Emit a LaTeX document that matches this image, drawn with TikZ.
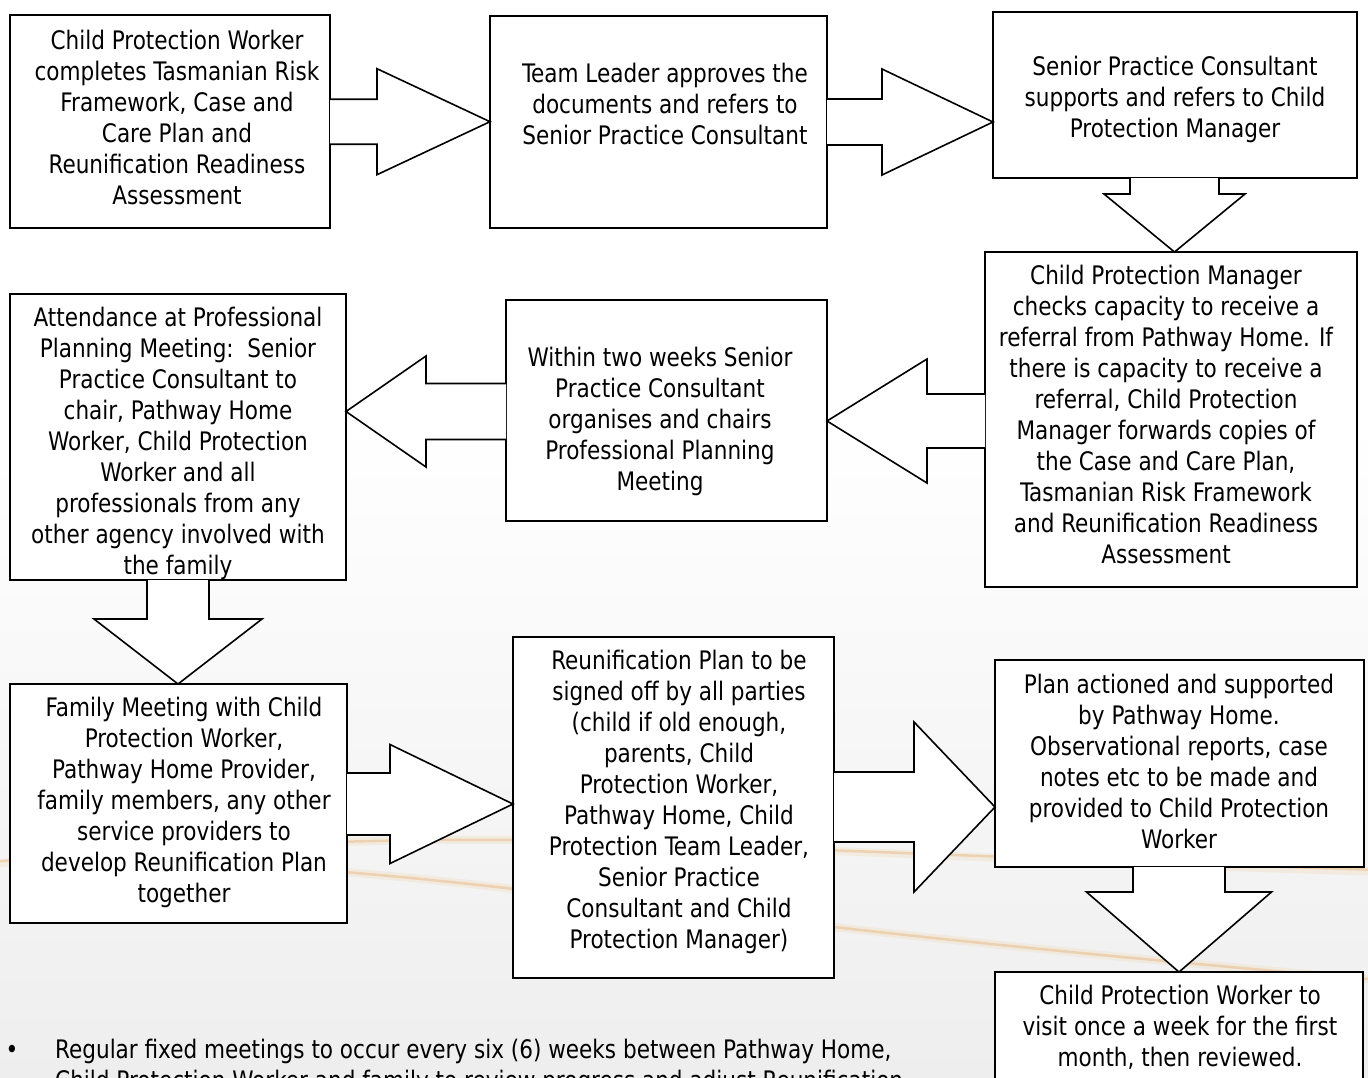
\documentclass[tikz,border=0pt]{standalone}
\usepackage{fontspec}
\newfontfamily\djc[FakeStretch=0.94]{DejaVu Sans Condensed}
\usetikzlibrary{calc}
\definecolor{bgg}{RGB}{238,238,238}
\definecolor{swo}{RGB}{228,165,90}
\definecolor{swl}{RGB}{240,210,165}
\newcommand\harr[6]{%
  \filldraw[arr] let \p1=(#1), \p2=(#2) in
    (\x1,{-(#3-#5)*1pt}) -- ({\x2-(#4)*1pt},{-(#3-#5)*1pt}) -- ({\x2-(#4)*1pt},{-(#3-#6)*1pt})
    -- (\x2,{-(#3)*1pt}) -- ({\x2-(#4)*1pt},{-(#3+#6)*1pt}) -- ({\x2-(#4)*1pt},{-(#3+#5)*1pt})
    -- (\x1,{-(#3+#5)*1pt});}
\newcommand\varr[6]{%
  \filldraw[arr] let \p1=(#1), \p2=(#2) in
    ({(#3-#5)*1pt},\y1) -- ({(#3-#5)*1pt},{\y2+(#4)*1pt}) -- ({(#3-#6)*1pt},{\y2+(#4)*1pt})
    -- ({(#3)*1pt},\y2) -- ({(#3+#6)*1pt},{\y2+(#4)*1pt}) -- ({(#3+#5)*1pt},{\y2+(#4)*1pt})
    -- ({(#3+#5)*1pt},\y1);}
\begin{document}
\begin{tikzpicture}[x=1pt,y=-1pt,
  box/.style={draw=black, line width=1.8pt, fill=white, anchor=north west, inner sep=0pt, outer sep=0pt},
  txt/.style={align=center, inner sep=0pt, font=\djc\fontsize{25.5}{31}\selectfont, text=black},
  arr/.style={draw=black, line width=1.6pt, fill=white, line join=miter},
  swoosh/.style={line width=2.5pt, draw=swo, opacity=0.35, line cap=round},
  swooshl/.style={line width=8pt, draw=swl, opacity=0.25, line cap=round}]
\useasboundingbox (0,0) rectangle (1368,1077);
\clip (0,0) rectangle (1368,1077);
\fill[white] (0,0) rectangle (1368,1077);
\shade[top color=white, bottom color=bgg] (0,420) rectangle (1368,1077);
% background swooshes
\draw[swooshl] (-10,864) .. controls (200,845) and (420,835) .. (600,842) .. controls (800,848) and (1000,860) .. (1380,872);
\draw[swoosh] (-10,862) .. controls (200,845) and (420,835) .. (600,842) .. controls (800,848) and (1000,858) .. (1380,870);
\draw[swooshl] (250,866) .. controls (420,874) and (600,900) .. (834,927) .. controls (1000,946) and (1200,965) .. (1380,980);
\draw[swoosh] (250,866) .. controls (420,874) and (600,900) .. (834,927) .. controls (1000,946) and (1200,965) .. (1380,980);
% boxes
\node[box, minimum width=320pt, minimum height=213pt] (b1) at (10,15) {};
\node[box, minimum width=337pt, minimum height=212pt] (b2) at (490,16) {};
\node[box, minimum width=364pt, minimum height=166pt] (b3) at (993,12) {};
\node[box, minimum width=372pt, minimum height=335pt] (b4) at (985,252) {};
\node[box, minimum width=321pt, minimum height=221pt] (b5) at (506,300) {};
\node[box, minimum width=336pt, minimum height=286pt] (b6) at (10,294) {};
\node[box, minimum width=337pt, minimum height=239pt] (b7) at (10,684) {};
\node[box, minimum width=321pt, minimum height=341pt] (b8) at (513,637) {};
\node[box, minimum width=369pt, minimum height=207pt] (b9) at (995,660) {};
\node[box, minimum width=368pt, minimum height=130pt] (b10) at (995,972) {};
% texts
\node[txt] (t1) at (177,121) {\strut Child Protection Worker\\completes Tasmanian Risk\\Framework, Case and\\Care Plan and\\Reunification Readiness\\Assessment\strut};
\node[txt] (t2) at (665,107) {\strut Team Leader approves the\\documents and refers to\\Senior Practice Consultant\strut};
\node[txt] (t3) at (1175,100) {\strut Senior Practice Consultant\\supports and refers to Child\\Protection Manager\strut};
\node[txt] (t4) at (1166,418) {\strut Child Protection Manager\\checks capacity to receive a\\referral from Pathway Home. If\\there is capacity to receive a\\referral, Child Protection\\Manager forwards copies of\\the Case and Care Plan,\\Tasmanian Risk Framework\\and Reunification Readiness\\Assessment\strut};
\node[txt] (t5) at (660,422) {\strut Within two weeks Senior\\Practice Consultant\\organises and chairs\\Professional Planning\\Meeting\strut};
\begin{scope}
\clip (b6.north west) rectangle (b6.south east);
\node[txt] (t6) at (178,444) {\strut Attendance at Professional\\Planning Meeting:\ \ Senior\\Practice Consultant to\\chair, Pathway Home\\Worker, Child Protection\\Worker and all\\professionals from any\\other agency involved with\\the family\strut};
\end{scope}
\node[txt] (t7) at (184,803) {\strut Family Meeting with Child\\Protection Worker,\\Pathway Home Provider,\\family members, any other\\service providers to\\develop Reunification Plan\\together\strut};
\node[txt] (t8) at (679,803) {\strut Reunification Plan to be\\signed off by all parties\\(child if old enough,\\parents, Child\\Protection Worker,\\Pathway Home, Child\\Protection Team Leader,\\Senior Practice\\Consultant and Child\\Protection Manager)\strut};
\node[txt] (t9) at (1179,765) {\strut Plan actioned and supported\\by Pathway Home.\\Observational reports, case\\notes etc to be made and\\provided to Child Protection\\Worker\strut};
\node[txt] (t10) at (1180,1029) {\strut Child Protection Worker to\\visit once a week for the first\\month, then reviewed.\strut};
% bullet text
\node[txt, anchor=base] (dot) at (12,1058) {•};
\node[txt, anchor=base west] (bl1) at (55,1058) {Regular fixed meetings to occur every six (6) weeks between Pathway Home,};
\node[txt, anchor=base west] (bl2) at (55,1089) {Child Protection Worker and family to review progress and adjust Reunification};
% block arrows
\harr{b1.east}{b2.west}{121.7}{113}{22.5}{53}
\harr{b2.east}{b3.west}{122}{111}{23}{53}
\varr{b3.south}{b4.north}{1174.5}{58}{44.5}{70.5}
\harr{b4.west}{b5.east}{421}{-100}{27}{62}
\harr{b5.west}{b6.east}{411.5}{-80}{28}{55.5}
\varr{b6.south}{b7.north}{178}{65}{31}{84}
\harr{b7.east}{b8.west}{804}{123}{31}{59.5}
\harr{b8.east}{b9.west}{807}{81}{35}{85}
\varr{b9.south}{b10.north}{1179}{80}{46}{92.5}
\end{tikzpicture}
\end{document}
